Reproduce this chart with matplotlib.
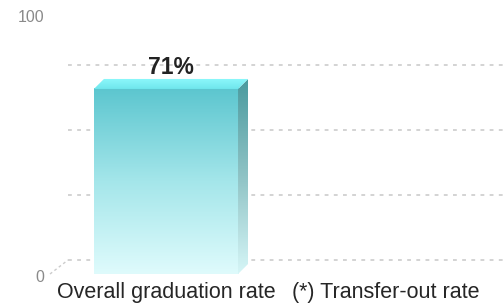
import numpy as np
import matplotlib
matplotlib.use("Agg")
import matplotlib.pyplot as plt
import matplotlib.transforms as mtransforms
from matplotlib.colors import LinearSegmentedColormap
from matplotlib.patches import Polygon

# data
categories = ["Overall graduation rate", "(*) Transfer-out rate"]
values = [71, None]
bar_labels = ["71%", ""]
grid_ticks = [0, 25, 50, 75]
tick_values = [0, 100]
tick_labels = ["0", "100"]

plt.rcParams["font.family"] = ["Liberation Sans", "DejaVu Sans"]

fig = plt.figure(figsize=(5.04, 3.07), dpi=100)
ax = fig.add_axes([50 / 504, 33 / 307, 454 / 504, 260.6 / 307])
ax.set_xlim(-0.527, 1.536)
ax.set_ylim(0, 100)
ax.axis("off")

# back wall offset, in pixels
wall = mtransforms.offset_copy(ax.transData, fig, x=18, y=14, units="dots")
xl, xr = ax.get_xlim()

# gridlines on the back wall
for g in grid_ticks:
    ax.plot([xl, xr], [g, g], transform=wall, color="#c8c8c8", lw=1.1,
            ls=(0, (2.5, 3.5)), clip_on=False, zorder=1)

# floor edge
fx, fy = ax.transData.transform((xl, 0))
ax.plot([fx, fx + 18], [fy, fy + 14], transform=None, color="#cccccc",
        lw=1, ls=(0, (2, 2)), clip_on=False)

# y labels on the front plane
lab = mtransforms.offset_copy(ax.transData, fig, x=-6, y=-4, units="dots")
for v, t in zip(tick_values, tick_labels):
    ax.text(xl, v, t, transform=lab, ha="right", va="center", fontsize=11.5,
            color="#8a8a8a")

# bars
width = 0.655
px_x = ax.bbox.width / (xr - xl)
px_y = ax.bbox.height / 100
ddx, ddy = 10 / px_x, 10 / px_y

front_cmap = LinearSegmentedColormap.from_list("front", ["#dffbfc", "#a4e6ea", "#5cc6cf"])
side_cmap = LinearSegmentedColormap.from_list("side", ["#d6f6f7", "#8fc3c5", "#4a9a9e"])
top_cmap = LinearSegmentedColormap.from_list("top", ["#6fe6ec", "#8ef9fc"])
grad = np.linspace(0, 1, 256).reshape(-1, 1)

for i, v in enumerate(values):
    if v is None:
        continue
    x0, x1 = i - width / 2, i + width / 2
    ax.imshow(grad, cmap=front_cmap, origin="lower", aspect="auto",
              extent=[x0, x1, 0, v], zorder=3)
    side = Polygon([(x1, 0), (x1 + ddx, ddy), (x1 + ddx, v + ddy), (x1, v)],
                   closed=True, facecolor="none", edgecolor="none")
    ax.add_patch(side)
    im = ax.imshow(grad, cmap=side_cmap, origin="lower", aspect="auto",
                   extent=[x1, x1 + ddx, 0, v + ddy], zorder=3)
    im.set_clip_path(side)
    top = Polygon([(x0, v), (x1, v), (x1 + ddx, v + ddy), (x0 + ddx, v + ddy)],
                  closed=True, facecolor="none", edgecolor="none")
    ax.add_patch(top)
    im2 = ax.imshow(grad, cmap=top_cmap, origin="lower", aspect="auto",
                    extent=[x0, x1 + ddx, v, v + ddy], zorder=3)
    im2.set_clip_path(top)
    ax.text(i + ddx / 2, v + ddy, bar_labels[i], ha="center", va="bottom",
            fontsize=16.5, fontweight="bold", color="#222222", zorder=4)

ax.set_xlim(xl, xr)
ax.set_ylim(0, 100)

# category labels
cat = mtransforms.offset_copy(ax.transData, fig, x=0, y=-8, units="dots")
for i, c in enumerate(categories):
    ax.text(i, 0, c, transform=cat, ha="center", va="top", fontsize=15.5,
            color="#262626")

fig.savefig("out.png", dpi=100)
